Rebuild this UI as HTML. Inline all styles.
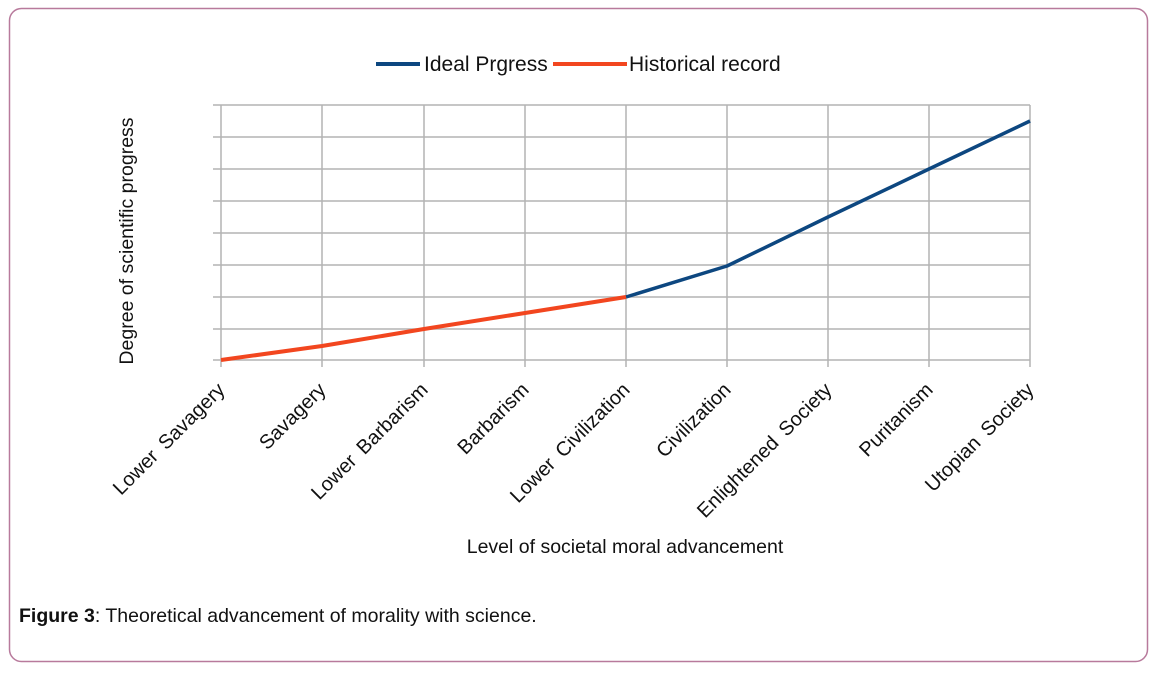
<!DOCTYPE html>
<html><head><meta charset="utf-8"><style>
html,body{margin:0;padding:0;background:#fff;}
</style></head><body>
<svg width="1160" height="672" xmlns="http://www.w3.org/2000/svg" font-family="Liberation Sans, sans-serif">
<rect x="9.5" y="8.5" width="1138" height="653" rx="12" fill="#fff" stroke="#b87a9c" stroke-width="1.5"/>
<g stroke="#b4b4b4" stroke-width="1.5">
<line x1="213" y1="105" x2="1030" y2="105"/>
<line x1="213" y1="137" x2="1030" y2="137"/>
<line x1="213" y1="169" x2="1030" y2="169"/>
<line x1="213" y1="201" x2="1030" y2="201"/>
<line x1="213" y1="233" x2="1030" y2="233"/>
<line x1="213" y1="265" x2="1030" y2="265"/>
<line x1="213" y1="297" x2="1030" y2="297"/>
<line x1="213" y1="329" x2="1030" y2="329"/>
<line x1="213" y1="360" x2="1030" y2="360"/>
<line x1="221" y1="105" x2="221" y2="367"/>
<line x1="322" y1="105" x2="322" y2="367"/>
<line x1="424" y1="105" x2="424" y2="367"/>
<line x1="525" y1="105" x2="525" y2="367"/>
<line x1="626" y1="105" x2="626" y2="367"/>
<line x1="727" y1="105" x2="727" y2="367"/>
<line x1="828" y1="105" x2="828" y2="367"/>
<line x1="929" y1="105" x2="929" y2="367"/>
<line x1="1030" y1="105" x2="1030" y2="367"/>
</g>
<polyline points="626,297 727,266 828,217 929,169 1030,121" fill="none" stroke="#0d4780" stroke-width="3.5" stroke-linejoin="round"/>
<polyline points="221,360 322,346 424,329 525,313 626,297" fill="none" stroke="#f2461f" stroke-width="4" stroke-linejoin="round"/>
<line x1="376" y1="64" x2="420" y2="64" stroke="#0d4780" stroke-width="4"/>
<text x="424" y="71" font-size="21" fill="#111">Ideal  Prgress</text>
<line x1="553" y1="64" x2="627" y2="64" stroke="#f2461f" stroke-width="4"/>
<text x="629" y="71" font-size="21" fill="#111">Historical record</text>
<text transform="translate(133,241) rotate(-90)" text-anchor="middle" font-size="19.5" fill="#111">Degree of scientific progress</text>
<g font-size="20" fill="#111" text-anchor="end" word-spacing="4">
<text transform="translate(226,391) rotate(-45)">Lower Savagery</text>
<text transform="translate(327,391) rotate(-45)">Savagery</text>
<text transform="translate(429,391) rotate(-45)">Lower Barbarism</text>
<text transform="translate(530,391) rotate(-45)">Barbarism</text>
<text transform="translate(631,391) rotate(-45)">Lower Civilization</text>
<text transform="translate(732,391) rotate(-45)">Civilization</text>
<text transform="translate(833,391) rotate(-45)">Enlightened Society</text>
<text transform="translate(934,391) rotate(-45)">Puritanism</text>
<text transform="translate(1035,391) rotate(-45)">Utopian Society</text>
</g>
<text x="625" y="553" text-anchor="middle" font-size="19.5" fill="#111">Level of societal moral advancement</text>
<text x="19" y="622" font-size="19.5" fill="#111"><tspan font-weight="bold">Figure 3</tspan>: Theoretical advancement of morality with science.</text>
</svg>
</body></html>
